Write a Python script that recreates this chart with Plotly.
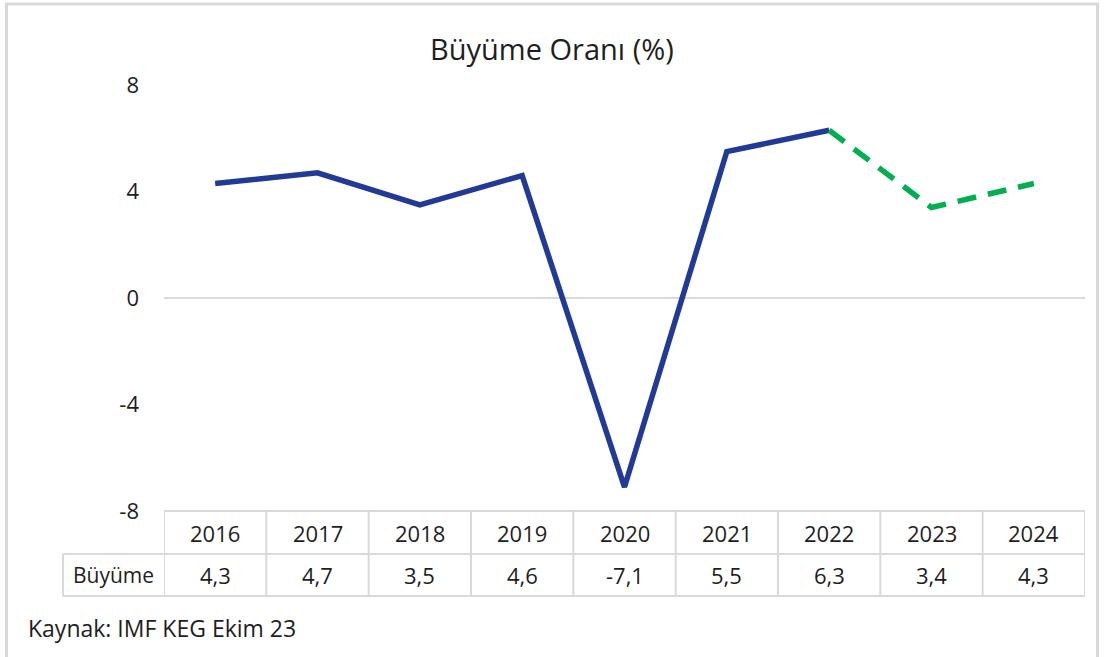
import plotly.graph_objects as go

years = ["2016", "2017", "2018", "2019", "2020", "2021", "2022", "2023", "2024"]
growth = [4.3, 4.7, 3.5, 4.6, -7.1, 5.5, 6.3, 3.4, 4.3]
actual_idx = list(range(0, 7))      # 2016-2022 realised
forecast_idx = list(range(6, 9))    # 2022-2024 forecast
ytick_vals = [-8, -4, 0, 4, 8]
title_text = "Büyüme Oranı (%)"
row_label = "Büyüme"
source_text = "Kaynak: IMF KEG Ekim 23"

W, H = 1107, 657
FONT = "Open Sans"
TXT = "#1e1e1e"
GRID = "#d9d9d9"
NAVY = "#213a97"
GREEN = "#00b050"

def px(x):
    return x / W

def py(y):
    return 1 - y / H

plot_l, plot_r, plot_t, plot_b = 164, 1085, 85, 511
row1_b, row2_b = 554, 596
label_l = 63

fig = go.Figure()
fig.add_trace(go.Scatter(
    x=actual_idx, y=[growth[i] for i in actual_idx], mode="lines",
    line=dict(color=NAVY, width=5.5), showlegend=False, hoverinfo="skip"))
fig.add_trace(go.Scatter(
    x=forecast_idx, y=[growth[i] for i in forecast_idx], mode="lines",
    line=dict(color=GREEN, width=5.5, dash="19px,12px"), showlegend=False, hoverinfo="skip"))

shapes = []
shapes.append(dict(type="rect", xref="paper", yref="paper",
                   x0=px(6.5), x1=px(1097.5), y0=py(662), y1=py(4),
                   line=dict(color=GRID, width=3), layer="below"))
shapes.append(dict(type="line", xref="paper", yref="paper",
                   x0=px(plot_l), x1=px(plot_r), y0=py(plot_b), y1=py(plot_b),
                   line=dict(color=GRID, width=2)))
for yy in (row1_b, row2_b):
    shapes.append(dict(type="line", xref="paper", yref="paper",
                       x0=px(label_l), x1=px(plot_r), y0=py(yy), y1=py(yy),
                       line=dict(color=GRID, width=2)))
for i in range(len(years) + 1):
    shapes.append(dict(type="line", xref="x", yref="paper",
                       x0=i - 0.5, x1=i - 0.5, y0=py(plot_b), y1=py(row2_b),
                       line=dict(color=GRID, width=2)))
shapes.append(dict(type="line", xref="paper", yref="paper",
                   x0=px(label_l), x1=px(label_l), y0=py(row1_b), y1=py(row2_b),
                   line=dict(color=GRID, width=2)))

annotations = []
annotations.append(dict(text=title_text, xref="paper", yref="paper",
                        x=px(552), y=py(48), xanchor="center", yanchor="middle",
                        showarrow=False, font=dict(family=FONT, size=29, color=TXT)))
for i, (yr, v) in enumerate(zip(years, growth)):
    annotations.append(dict(text=yr, xref="x", yref="paper", x=i, y=py((plot_b + row1_b) / 2),
                            xanchor="center", yanchor="middle", showarrow=False,
                            font=dict(family=FONT, size=22, color=TXT)))
    annotations.append(dict(text=f"{v:.1f}".replace(".", ","), xref="x", yref="paper", x=i,
                            y=py((row1_b + row2_b) / 2), xanchor="center", yanchor="middle",
                            showarrow=False, font=dict(family=FONT, size=22, color=TXT)))
annotations.append(dict(text=row_label, xref="paper", yref="paper",
                        x=px((label_l + plot_l) / 2), y=py((row1_b + row2_b) / 2),
                        xanchor="center", yanchor="middle", showarrow=False,
                        font=dict(family=FONT, size=21, color=TXT)))
annotations.append(dict(text=source_text, xref="paper", yref="paper",
                        x=px(26), y=py(628), xanchor="left", yanchor="middle",
                        showarrow=False, font=dict(family=FONT, size=23, color=TXT)))

fig.update_layout(
    width=W, height=H,
    margin=dict(l=0, r=0, t=0, b=0, autoexpand=False),
    paper_bgcolor="white", plot_bgcolor="white",
    xaxis=dict(domain=[px(plot_l), px(plot_r)], range=[-0.5, len(years) - 0.5],
               automargin=False,
               showticklabels=False, showgrid=False, zeroline=False, showline=False, ticks=""),
    yaxis=dict(domain=[py(plot_b), py(plot_t)], range=[-8, 8], automargin=False,
               tickvals=ytick_vals, ticktext=[str(v) for v in ytick_vals],
               showgrid=False, zeroline=True, zerolinecolor=GRID, zerolinewidth=2,
               showline=False, ticks="", ticklabelstandoff=24,
               tickfont=dict(family=FONT, size=22, color=TXT)),
    shapes=shapes, annotations=annotations,
)

pin_js = (
    "document.documentElement.style.margin='0';"
    "document.body.style.margin='0';"
    "document.body.style.overflow='hidden';"
)
fig.write_html("out.html", config={"displayModeBar": False}, post_script=pin_js)
